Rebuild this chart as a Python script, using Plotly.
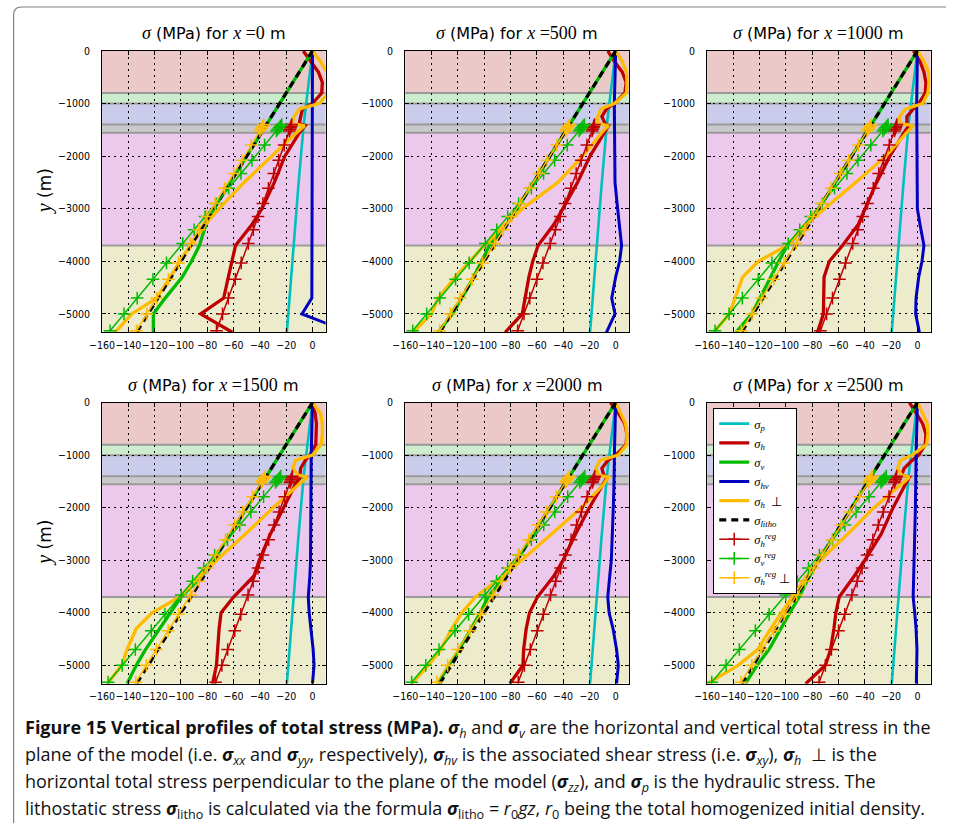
import plotly.graph_objects as go

# ---------------- data ----------------
POSITIONS = ["0", "500", "1000", "1500", "2000", "2500"]

NODE_Y = [0, -200, -400, -600, -800, -1000, -1100, -1250, -1380, -1420, -1550,
          -2000, -2500, -3000, -3300, -3700, -4000, -4300, -4700, -5000, -5350]

# sigma_h (horizontal total stress in the model plane)
SH_X0 = [-7, -1, 4.5, 7.5, 7, 0, -7.5, -9, -10, -5.5, -9.8, -21, -29, -38.5, -46, -58.5, -61.5, -64, -67.5, -85, -61]
SH_X500 = [-6, -1, 5, 8, 7, -1, -7, -10.5, -8, -5.5, -8.5, -19.5, -29, -40.5, -47, -59, -63, -66, -69, -71, -84]
SH_X1000 = [-3, 2, 5, 6.5, 6, 1, -3, -8, -8, -6.5, -10, -21, -31, -39.5, -45, -57, -67, -71, -71.5, -71.5, -76]
SH_X1500 = [-1, 2, 3, 3, 2.5, -2, -5.5, -9, -9.5, -9, -13, -22, -32, -40.5, -44.5, -60, -69.5, -71, -72.5, -73, -76]
SH_X2000 = [-4, 2, 7, 8.5, 8, 0, -6, -10.5, -9, -6.5, -9.5, -20, -30.5, -40, -47, -59.5, -65.5, -68, -70, -70.5, -80.5]
SH_X2500 = [-6, -1, 4, 6.5, 6, 1, -4, -10, -12, -6, -9, -18.5, -27.5, -40, -48, -59.5, -62, -63.5, -66, -70, -85]

# sigma_v
SV_X0 = [0, -5, -10, -15, -20, -25, -27.5, -31, -34.5, -35.5, -39, -50, -62.5, -75, -81, -86, -92, -99, -112, -121, -121]
SV_X500 = [0, -5, -10, -15, -20, -25, -27.5, -31, -34.5, -35.5, -39, -50, -62.5, -75, -83, -96, -102, -108, -117, -124, -135]
SV_X1000 = [0, -5, -10, -15, -20, -25, -27.5, -31, -34.5, -35.5, -39, -50, -62.5, -75, -84, -99, -105.5, -111.5, -120, -126, -138]
SV_X1500 = [0, -5, -10, -15, -20, -25, -27.5, -31, -34.5, -35.5, -39, -50, -62.5, -75, -84, -100, -108, -116, -127, -134, -141]
SV_X2000 = [0, -5, -10, -15, -20, -25, -27.5, -31, -34.5, -35.5, -39, -50, -62.5, -75, -84, -97, -103, -110, -119, -127, -135]
SV_X2500 = [0, -5, -10, -15, -20, -25, -27.5, -31, -34.5, -35.5, -39, -50, -62.5, -75, -82, -90, -97, -104, -113, -122, -131]

# sigma_h perpendicular
SHP_X0 = [0, 6, 11, 13, 12, 5, -10, -14, -15.5, -6, -12, -31, -52, -71, -81.5, -92.5, -101, -108, -118.5, -137.5, -150]
SHP_X500 = [0, 5, 8.2, 8.7, 8.2, -1, -11, -13.6, -13.5, -5.5, -10.5, -25, -44, -71, -84, -100, -111, -122, -135, -140, -154]
SHP_X1000 = [0, 5, 8.5, 9, 8, 4, -9, -13.5, -13, -3, -8, -24, -47, -71, -85, -99, -121, -133, -139, -143, -155]
SHP_X1500 = [0, 6, 7.5, 7.5, 6.5, 0, -13, -15, -11, -4, -10, -30, -51, -73, -86, -101, -122, -134, -141, -145, -156]
SHP_X2000 = [0, 4, 7.5, 8.5, 8.5, 2, -12, -15, -13, -5.5, -9, -26, -48.5, -71.5, -86, -106.5, -117, -124.5, -133, -142.5, -155]
SHP_X2500 = [0, 4, 7.5, 8, 7, -4, -13, -15, -12, -6, -12, -33, -53, -74, -84, -95.5, -103.5, -111.5, -121.5, -136.5, -160]

# sigma_hv (shear)
SHV_X0 = [0, 0, 0, 0, 0, 0, 0, 0, 0, 0, 0, 0, 0, -0.2, -0.3, -0.3, -0.4, -0.5, -0.5, -8, 28]
SHV_X500 = [0, -0.3, -0.5, -0.7, -0.8, -1, -1, -1, -1, -1, -1, -1, -0.5, 1.5, 3, 4.5, 3, 0, -3, -0.5, -7]
SHV_X1000 = [0, -0.2, -0.3, -0.4, -0.5, -0.5, -0.5, -0.5, -0.5, -0.5, -0.5, -0.5, -0.5, 0, 2, 5, 3.5, 1, -1, -1.3, 1.5]
SHV_X1500 = [0, -0.3, -0.5, -0.7, -0.8, -1, -1, -1, -1, -1, -1, -1, -1.2, -1.5, -2, -3.2, -2.5, -1, 0.5, 1.2, 0]
SHV_X2000 = [0, -0.3, -0.5, -0.7, -0.8, -1, -1, -1, -1.2, -1.2, -1.3, -1.8, -2.5, -3.3, -4.5, -6, -5, -2, 0.7, 2, 0.7]
SHV_X2500 = [0, -0.3, -0.5, -0.7, -0.8, -1, -1, -1, -1, -1, -1.1, -1.5, -2, -2.5, -3, -3.2, -2, -1, -0.3, -0.5, -0.8]

# hydraulic stress (same in every profile)
SP_Y = [0, -1000, -1400, -2550, -3700, -5350]
SP_X = [0, -5, -6.7, -10.7, -14.5, -19.5]

# lithostatic stress
LITHO_Y = [0, -5350]
LITHO_X = [0, -133.75]

# regression profiles
REG_Y = [-1400, -1430, -1460, -1490, -1520, -1790, -2080, -2330, -2610, -2900,
         -3150, -3400, -3660, -4030, -4340, -4700, -5000, -5320]

REGH_X0 = [-15.8, -16.2, -16.7, -17.1, -17.6, -21.5, -25.7, -29.4, -33.5, -37.7, -41.4, -45.0, -48.8, -54.2, -58.7, -64.0, -68.4, -73.0]
REGH_X500 = [-16.1, -16.6, -17.0, -17.4, -17.9, -21.9, -26.2, -30.0, -34.1, -38.5, -42.2, -45.9, -49.8, -55.3, -59.9, -65.3, -69.7, -74.5]
REGH_X1000 = [-15.6, -16.0, -16.5, -16.9, -17.4, -21.4, -25.7, -29.4, -33.6, -37.9, -41.6, -45.3, -49.2, -54.7, -59.3, -64.6, -69.1, -73.8]
REGH_X1500 = [-15.3, -15.7, -16.2, -16.6, -17.1, -21.1, -25.4, -29.2, -33.3, -37.7, -41.4, -45.1, -49.0, -54.5, -59.1, -64.5, -68.9, -73.7]
REGH_X2000 = [-15.9, -16.3, -16.8, -17.2, -17.7, -21.7, -26.0, -29.7, -33.9, -38.2, -41.9, -45.6, -49.5, -55.0, -59.6, -64.9, -69.4, -74.1]
REGH_X2500 = [-15.7, -16.2, -16.6, -17.1, -17.5, -21.6, -26.0, -29.7, -33.9, -38.3, -42.1, -45.8, -49.8, -55.3, -60.0, -65.4, -70.0, -74.8]

REGV_X0 = [-23.4, -24.4, -25.4, -26.4, -27.4, -36.4, -46.0, -54.4, -63.7, -73.4, -81.7, -90.0, -98.7, -111.0, -121.3, -133.3, -143.3, -153.9]
REGV_X500 = [-23.8, -24.8, -25.8, -26.8, -27.8, -36.8, -46.4, -54.8, -64.1, -73.8, -82.1, -90.4, -99.1, -111.4, -121.7, -133.7, -143.7, -154.3]
REGV_X1000 = [-22.3, -23.3, -24.3, -25.3, -26.3, -35.4, -45.2, -53.6, -63.0, -72.7, -81.1, -89.5, -98.2, -110.7, -121.1, -133.2, -143.3, -154.0]
REGV_X1500 = [-24.1, -25.1, -26.1, -27.1, -28.1, -37.2, -46.9, -55.3, -64.6, -74.4, -82.7, -91.1, -99.8, -112.2, -122.6, -134.7, -144.7, -155.4]
REGV_X2000 = [-23.4, -24.4, -25.4, -26.4, -27.4, -36.5, -46.3, -54.7, -64.1, -73.8, -82.2, -90.6, -99.3, -111.8, -122.2, -134.3, -144.4, -155.1]
REGV_X2500 = [-23.6, -24.6, -25.6, -26.7, -27.7, -36.8, -46.7, -55.1, -64.6, -74.5, -82.9, -91.4, -100.2, -112.8, -123.3, -135.5, -145.6, -156.5]

REGHP_X0 = [-37.0, -37.7, -38.5, -39.2, -40.0, -46.6, -53.8, -60.0, -66.9, -74.1, -80.2, -86.4, -92.8, -102.0, -109.6, -118.5, -125.9, -133.8]
REGHP_X500 = [-35.0, -35.8, -36.5, -37.3, -38.0, -44.8, -52.1, -58.4, -65.5, -72.8, -79.1, -85.4, -92.0, -101.3, -109.1, -118.2, -125.7, -133.8]
REGHP_X1000 = [-35.2, -36.0, -36.7, -37.5, -38.2, -45.0, -52.3, -58.6, -65.7, -73.0, -79.3, -85.6, -92.2, -101.5, -109.3, -118.4, -125.9, -134.0]
REGHP_X1500 = [-35.9, -36.7, -37.4, -38.2, -38.9, -45.7, -53.0, -59.2, -66.3, -73.6, -79.8, -86.1, -92.6, -101.9, -109.7, -118.7, -126.3, -134.3]
REGHP_X2000 = [-35.2, -36.0, -36.7, -37.5, -38.3, -45.2, -52.7, -59.1, -66.3, -73.8, -80.2, -86.6, -93.3, -102.8, -110.8, -120.0, -127.7, -135.9]
REGHP_X2500 = [-34.2, -35.0, -35.7, -36.5, -37.3, -44.2, -51.5, -57.9, -65.1, -72.5, -78.8, -85.2, -91.8, -101.3, -109.2, -118.4, -126.0, -134.2]

# geological layers
LAYER_TOP = [0, -800, -1000, -1400, -1555, -3700]
LAYER_BOT = [-800, -1000, -1400, -1555, -3700, -5350]
LAYER_COLORS = ["#ecc9c9", "#cdeccd", "#cbcbec", "#c9c9cc", "#ecc9ec", "#ecebcc"]

X_TICKS = [-160, -140, -120, -100, -80, -60, -40, -20, 0]
Y_TICKS = [0, -1000, -2000, -3000, -4000, -5000]

SH = [SH_X0, SH_X500, SH_X1000, SH_X1500, SH_X2000, SH_X2500]
SV = [SV_X0, SV_X500, SV_X1000, SV_X1500, SV_X2000, SV_X2500]
SHP = [SHP_X0, SHP_X500, SHP_X1000, SHP_X1500, SHP_X2000, SHP_X2500]
SHV = [SHV_X0, SHV_X500, SHV_X1000, SHV_X1500, SHV_X2000, SHV_X2500]
REGH = [REGH_X0, REGH_X500, REGH_X1000, REGH_X1500, REGH_X2000, REGH_X2500]
REGV = [REGV_X0, REGV_X500, REGV_X1000, REGV_X1500, REGV_X2000, REGV_X2500]
REGHP = [REGHP_X0, REGHP_X500, REGHP_X1000, REGHP_X1500, REGHP_X2000, REGHP_X2500]

# ---------------- style ----------------
# the page body keeps an 8 px default margin, so the figure is drawn 8 px smaller
OFF = 8
W, H = 954 - OFF, 831 - OFF
C_P, C_H, C_V, C_HV, C_HP = "#00bfbf", "#bf0000", "#00bb00", "#0000bf", "#ffbb00"
SERIF = "Liberation Serif"

def px(x):
    """screen x (pixels in the 954x831 window) -> paper fraction"""
    return (x - OFF) / W

def py(y):
    return 1 - (y - OFF) / H

COL_X = [(98.3, 325.0), (405.7, 632.4), (711.8, 938.3)]
ROW_Y = [(53.3, 336.7), (407.5, 690.7)]

def m(s, size=None):
    st = "font-family:Liberation Serif"
    if size:
        st += f";font-size:{size}px"
    return f'<span style="{st}">' + s + '</span>'

NAMES = [
    "<i>σ<sub>p</sub></i>", "<i>σ<sub>h</sub></i>", "<i>σ<sub>v</sub></i>",
    "<i>σ<sub>hv</sub></i>", "<i>σ<sub>h</sub></i>  ⊥", "<i>σ<sub>litho</sub></i>",
    "<i>σ<sub>h</sub><sup>reg</sup></i>", "<i>σ<sub>v</sub><sup>reg</sup></i>",
    "<i>σ<sub>h</sub><sup>reg</sup></i> ⊥",
]

fig = go.Figure()
shapes = []
annotations = []

for i in range(6):
    n = i + 1
    r, c = divmod(i, 3)
    xa = "x" if n == 1 else f"x{n}"
    ya = "y" if n == 1 else f"y{n}"
    leg = (i == 5)

    def add(x, y, name, color, width, dash="solid", marker=False):
        kw = dict(x=x, y=y, xaxis=xa, yaxis=ya, name=name, showlegend=leg,
                  line=dict(color=color, width=width, dash=dash))
        if marker:
            kw["mode"] = "lines+markers"
            kw["marker"] = dict(symbol="cross-thin", size=9, color=color,
                                line=dict(color=color, width=1.5))
        else:
            kw["mode"] = "lines"
        fig.add_trace(go.Scatter(**kw))

    add(SP_X, SP_Y, NAMES[0], C_P, 2.6)
    add(SH[i], NODE_Y, NAMES[1], C_H, 3.3)
    add(SV[i], NODE_Y, NAMES[2], C_V, 3.3)
    add(SHV[i], NODE_Y, NAMES[3], C_HV, 3.0)
    add(SHP[i], NODE_Y, NAMES[4], C_HP, 3.3)
    add(LITHO_X, LITHO_Y, NAMES[5], "black", 3.2, dash="7px,5px")
    add(REGH[i], REG_Y, NAMES[6], C_H, 1.5, marker=True)
    add(REGV[i], REG_Y, NAMES[7], C_V, 1.5, marker=True)
    add(REGHP[i], REG_Y, NAMES[8], C_HP, 1.5, marker=True)

    x0, x1 = COL_X[c]
    y0, y1 = ROW_Y[r]
    common = dict(showline=True, linecolor="black", linewidth=1, mirror="ticks",
                  ticks="inside", ticklen=4, tickcolor="black", tickwidth=1,
                  showgrid=True, gridcolor="black", gridwidth=1, griddash="2px,4px",
                  zeroline=False, tickangle=0,
                  tickfont=dict(family="DejaVu Sans Condensed, DejaVu Sans", size=10.5, color="black"))
    fig.layout[("xaxis" if n == 1 else f"xaxis{n}")] = dict(
        domain=[px(x0), px(x1)], anchor=ya, range=[-160, 10], tickvals=X_TICKS,
        ticklabelstandoff=3, **common)
    fig.layout[("yaxis" if n == 1 else f"yaxis{n}")] = dict(
        domain=[py(y1), py(y0)], anchor=xa, range=[-5350, 0], tickvals=Y_TICKS,
        ticklabelstandoff=9, **common)

    for top, bot, col in zip(LAYER_TOP, LAYER_BOT, LAYER_COLORS):
        shapes.append(dict(type="rect", xref=f"{xa} domain", yref=ya, x0=0, x1=1,
                           y0=bot, y1=top, fillcolor=col, line=dict(width=0), layer="below"))
    for b in LAYER_BOT[:-1]:
        shapes.append(dict(type="line", xref=f"{xa} domain", yref=ya, x0=0, x1=1,
                           y0=b, y1=b, line=dict(color="#9a9a9a", width=2), layer="below"))

    # subplot title
    annotations.append(dict(
        x=px((x0 + x1) / 2), y=py(y0 - 18), xref="paper", yref="paper",
        text=m("<i>σ</i>", 18) + " (MPa) for " + m("<i>x</i> =" + POSITIONS[i], 18) + " m",
        showarrow=False, xanchor="center", yanchor="middle",
        font=dict(family="DejaVu Sans", size=16, color="black")))
    if c == 0:
        annotations.append(dict(
            x=px(40), y=py((y0 + y1) / 2), xref="paper", yref="paper",
            text=m("<i>y</i>", 20) + " (m)", textangle=-90, showarrow=False,
            xanchor="center", yanchor="middle",
            font=dict(family="DejaVu Sans", size=17, color="black")))

# caption
CAPTION = [
    "<b>Figure 15 Vertical profiles of total stress (MPa).</b> <b><i>σ</i></b><i><sub>h</sub></i> and "
    "<b><i>σ</i></b><i><sub>v</sub></i> are the horizontal and vertical total stress in the",
    "plane of the model (i.e. <b><i>σ</i></b><i><sub>xx</sub></i> and <b><i>σ</i></b><i><sub>yy</sub></i>, "
    "respectively), <b><i>σ</i></b><i><sub>hv</sub></i> is the associated shear stress (i.e. "
    "<b><i>σ</i></b><i><sub>xy</sub></i>), <b><i>σ</i></b><i><sub>h</sub></i>  ⊥ is the",
    "horizontal total stress perpendicular to the plane of the model (<b><i>σ</i></b><i><sub>zz</sub></i>), "
    "and <b><i>σ</i></b><i><sub>p</sub></i> is the hydraulic stress. The",
    "lithostatic stress <b><i>σ</i></b><sub>litho</sub> is calculated via the formula "
    "<b><i>σ</i></b><sub>litho</sub> = <i>r</i><sub>0</sub><i>gz</i>, <i>r</i><sub>0</sub> being the "
    "total homogenized initial density.",
]
for k, line in enumerate(CAPTION):
    annotations.append(dict(
        x=px(18), y=py(736 + 27 * k), xref="paper", yref="paper", text=line,
        showarrow=False, xanchor="left", yanchor="middle", align="left",
        font=dict(family="Open Sans", size=18, color="#111111")))

# frame (rounded top-left corner)
fx, fy, rr = 8.6, 9, 8
shapes.append(dict(
    type="path", xref="paper", yref="paper",
    path=(f"M {px(fx)},{py(840)} L {px(fx)},{py(fy + rr)} "
          f"Q {px(fx)},{py(fy)} {px(fx + rr)},{py(fy)} L {px(960)},{py(fy)}"),
    line=dict(color="#808080", width=1.2), layer="above"))

fig.update_layout(
    width=W, height=H, autosize=False,
    margin=dict(l=0, r=0, t=0, b=0),
    paper_bgcolor="white", plot_bgcolor="white",
    shapes=shapes, annotations=annotations,
    showlegend=True,
    legend=dict(x=px(718), y=py(413), xanchor="left", yanchor="top",
                bgcolor="white", bordercolor="black", borderwidth=1,
                font=dict(family=SERIF, size=12.5, color="black"),
                itemwidth=30, tracegroupgap=0),
)

fig.write_html("out.html")
